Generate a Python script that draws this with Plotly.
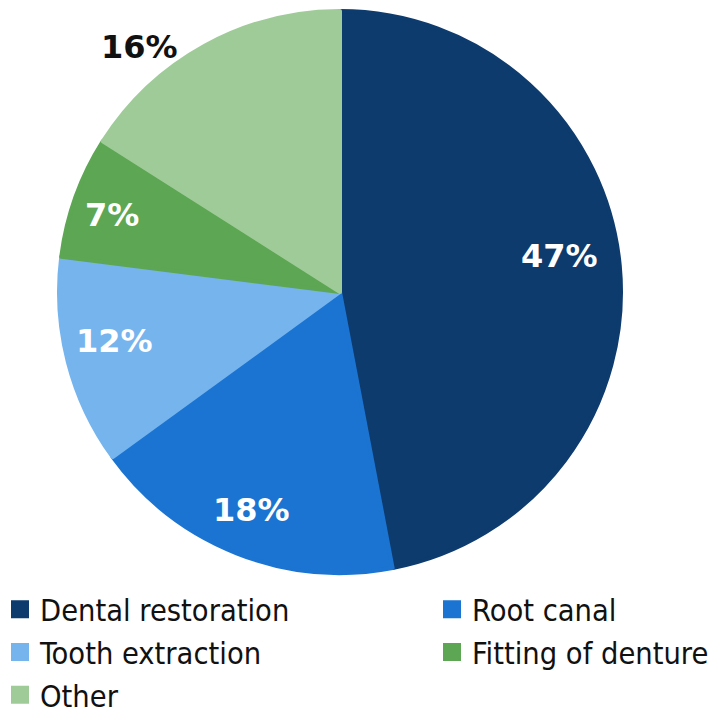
import math
import plotly.graph_objects as go

# Treatment shares (%)
categories = ["Dental restoration", "Root canal", "Tooth extraction", "Fitting of denture", "Other"]
values = [47, 18, 12, 7, 16]
colors = ["#0d3b6e", "#1b74d1", "#76b4ee", "#5da653", "#9fcb99"]
label_colors = ["white", "white", "white", "white", "#111111"]
# which of the two legend columns each category is listed in
legend_column = ["legend", "legend2", "legend", "legend2", "legend"]
# label placement: radius as fraction of pie radius, angular nudge in degrees
label_r = [0.793, 0.838, 0.821, 0.855, 1.127]
label_nudge = [-3.9, 0.6, 2.1, -1.1, -10.5]

W, H = 719, 709
cx, cy, R = 340, 292, 281

fig = go.Figure(go.Pie(
    labels=categories,
    values=values,
    sort=False,
    direction="clockwise",
    rotation=0,
    textinfo="none",
    hoverinfo="label+percent",
    showlegend=False,
    marker=dict(colors=colors, line=dict(color=colors, width=4)),
    domain=dict(x=[(cx - R) / W, (cx + R) / W], y=[1 - (cy + R) / H, 1 - (cy - R) / H]),
))

# legend entries, one square swatch per category
for name, col, lg in zip(categories, colors, legend_column):
    fig.add_trace(go.Scatter(
        x=[None], y=[None], mode="markers", name=name, legend=lg,
        marker=dict(symbol="square", size=16, color=col, line=dict(color=col, width=2)),
        hoverinfo="skip",
    ))

total = sum(values)
cum = 0
for v, c, rf, nd in zip(values, label_colors, label_r, label_nudge):
    mid = (cum + v / 2) / total * 360 + nd
    cum += v
    a = math.radians(mid)
    px = cx + rf * R * math.sin(a)
    py = cy - rf * R * math.cos(a)
    fig.add_annotation(
        x=px / W, y=1 - py / H, xref="paper", yref="paper",
        xanchor="center", yanchor="middle",
        text=f"{round(v / total * 100)}%", showarrow=False,
        font=dict(family="DejaVu Sans", size=32, color=c, weight="bold"),
    )

legend_font = dict(family="DejaVu Sans Condensed", size=30.5, color="#111111")
legend_top = 1 - 583 / H

fig.update_layout(
    width=W, height=H,
    margin=dict(l=0, r=0, t=0, b=0, autoexpand=False),
    paper_bgcolor="white",
    plot_bgcolor="white",
    xaxis=dict(visible=False),
    yaxis=dict(visible=False),
    legend=dict(
        orientation="v", x=0.0, xanchor="left", y=legend_top, yanchor="top",
        font=legend_font, traceorder="normal", bgcolor="rgba(0,0,0,0)",
    ),
    legend2=dict(
        orientation="v", x=432 / W, xanchor="left", y=legend_top, yanchor="top",
        font=legend_font, traceorder="normal", bgcolor="rgba(0,0,0,0)",
    ),
)

fig.write_html("out.html")
